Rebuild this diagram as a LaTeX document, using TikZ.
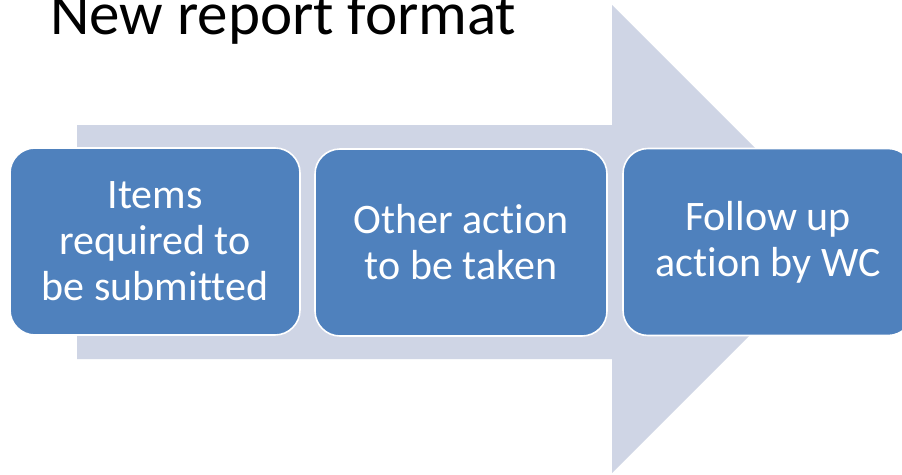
\documentclass[tikz,border=0pt]{standalone}
\usepackage{fontspec}
\setmainfont{Carlito}[Ligatures={NoCommon}]
\definecolor{boxblue}{HTML}{4F81BD}
\definecolor{arrowgray}{HTML}{CFD5E5}
\begin{document}
\begin{tikzpicture}[x=1pt,y=-1pt,
  stagebox/.style={draw=white, line width=1.6pt, fill=boxblue, rounded corners=25pt,
    minimum width=290pt, minimum height=187pt, text=white, align=center,
    font=\fontsize{42}{46}\selectfont, inner sep=0pt},
  titletext/.style={font=\fontsize{61}{70}\selectfont, anchor=base west, inner sep=0pt}]
\path[use as bounding box] (0,0) rectangle (902,474);
\clip (0,0) rectangle (902,474);
\fill[white] (0,0) rectangle (902,474);
\node[titletext] (title) at (50,34) {New report format};
\fill[arrowgray] (77,125) -- (612,125) -- (612,5) -- (846,239) -- (612,473) -- (612,359) -- (77,359) -- cycle;
\node[stagebox] (s1) at (155,241.5) {Items\\required to\\be submitted};
\node[stagebox, minimum width=292pt] (s2) at (461,242.5) {Other action\\to be taken};
\node[stagebox] (s3) at (768,242) {Follow up\\action by WC};
\end{tikzpicture}
\end{document}
